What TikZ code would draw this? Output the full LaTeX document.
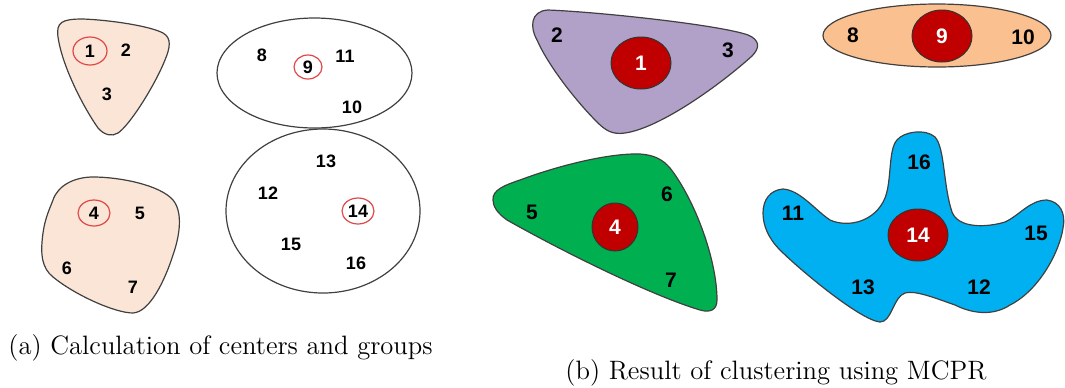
\documentclass[tikz,border=0pt]{standalone}
\usepackage{fontspec}
\newfontfamily\lblfont{Liberation Sans}
\usetikzlibrary{shapes.geometric}
\definecolor{peach}{HTML}{FBE5D6}
\definecolor{lilac}{HTML}{B1A0C7}
\definecolor{apricot}{HTML}{FAC08F}
\definecolor{leaf}{HTML}{00B050}
\definecolor{sky}{HTML}{00B0F0}
\definecolor{darkred}{HTML}{C00000}
\definecolor{ringred}{HTML}{E04848}
\definecolor{edge}{HTML}{404040}
\tikzset{
  blob/.style={draw=edge, line width=0.6pt},
  lblA/.style={font=\lblfont\bfseries\fontsize{9}{9}\selectfont, inner sep=0pt},
  lblB/.style={font=\lblfont\bfseries\fontsize{10.5}{10.5}\selectfont, inner sep=0pt},
  ring/.style={lblA, ellipse, draw=ringred, line width=0.6pt, inner sep=0pt},
  core/.style={lblB, ellipse, fill=darkred, draw=black!80, line width=0.5pt, text=white, inner sep=0pt},
  captxt/.style={font=\fontsize{13.3}{16}\selectfont, inner sep=0pt, anchor=west}
}
\begin{document}
\begin{tikzpicture}[x=0.5pt, y=-0.5pt]
\useasboundingbox (0,0) rectangle (1065,387);
% ---------- (a) ----------
\draw[blob, fill=peach] (58,37) .. controls (56,22) and (62,19) .. (83,19)
  .. controls (110,20) and (150,26) .. (163,33)
  .. controls (172,38) and (170,48) .. (165,60)
  .. controls (155,85) and (130,125) .. (118,133)
  .. controls (112,137) and (104,135) .. (98,128)
  .. controls (82,105) and (62,65) .. (58,37) -- cycle;
\draw[blob, fill=peach] (53,200) .. controls (58,185) and (75,177) .. (93,177)
  .. controls (120,177) and (160,185) .. (173,200)
  .. controls (183,212) and (180,235) .. (173,255)
  .. controls (165,280) and (150,312) .. (133,313)
  .. controls (115,313) and (75,295) .. (53,277)
  .. controls (42,268) and (40,255) .. (43,233)
  .. controls (45,218) and (50,208) .. (53,200) -- cycle;
\draw[blob] (314.5,73) ellipse [x radius=97.5, y radius=55];
\draw[blob] (323,211) ellipse [x radius=97, y radius=82];

\node[ring, minimum width=17pt, minimum height=14pt] (a1) at (90,51) {1};
\node[lblA] (a2) at (126,50) {2};
\node[lblA] (a3) at (107,94) {3};
\node[ring, minimum width=16pt, minimum height=13pt] (a4) at (94,213) {4};
\node[lblA] (a5) at (140,213) {5};
\node[lblA] (a6) at (67,268) {6};
\node[lblA] (a7) at (133,287) {7};
\node[lblA] (a8) at (262,55) {8};
\node[ring, minimum width=14pt, minimum height=12pt] (a9) at (308,67) {9};
\node[lblA] (a11) at (345,56) {11};
\node[lblA] (a10) at (352,107) {10};
\node[lblA] (a13) at (326,161) {13};
\node[lblA] (a12) at (268,193) {12};
\node[ring, minimum width=16pt, minimum height=13pt] (a14) at (358,211) {14};
\node[lblA] (a15) at (291,244) {15};
\node[lblA] (a16) at (356,263) {16};

% ---------- (b) ----------
\draw[blob, fill=lilac] (537,40) .. controls (530,28) and (530,11) .. (548,10)
  .. controls (600,12) and (720,25) .. (748,35)
  .. controls (760,40) and (760,48) .. (752,56)
  .. controls (720,85) and (660,128) .. (625,133)
  .. controls (612,135) and (605,130) .. (597,122)
  .. controls (575,100) and (548,65) .. (537,40) -- cycle;
\draw[blob, fill=apricot] (937,35.5) ellipse [x radius=114, y radius=31.5];
\draw[blob, fill=leaf] (493,200) .. controls (492,190) and (505,185) .. (520,180)
  .. controls (560,165) and (610,153) .. (640,154)
  .. controls (655,155) and (663,160) .. (670,168)
  .. controls (695,200) and (717,260) .. (717,300)
  .. controls (717,310) and (710,313) .. (700,310)
  .. controls (650,295) and (560,250) .. (507,220)
  .. controls (497,213) and (493,206) .. (493,200) -- cycle;
\draw[blob, fill=sky] (763,213) .. controls (763,200) and (770,190) .. (783,189)
  .. controls (800,190) and (815,210) .. (830,220)
  .. controls (848,228) and (875,222) .. (885,198)
  .. controls (892,180) and (888,150) .. (897,140)
  .. controls (903,132) and (925,128) .. (935,137)
  .. controls (945,148) and (943,185) .. (952,212)
  .. controls (958,228) and (985,228) .. (1005,222)
  .. controls (1020,215) and (1030,200) .. (1047,200)
  .. controls (1060,202) and (1066,213) .. (1063,228)
  .. controls (1060,250) and (1040,290) .. (1010,305)
  .. controls (995,315) and (975,315) .. (955,305)
  .. controls (935,298) and (915,290) .. (905,293)
  .. controls (893,297) and (892,322) .. (880,322)
  .. controls (860,320) and (800,270) .. (780,250)
  .. controls (768,238) and (763,225) .. (763,213) -- cycle;

\node[lblB] (b2) at (557,35) {2};
\node[lblB] (b3) at (728,50) {3};
\node[core, minimum width=30pt, minimum height=26pt] (b1) at (641,63) {1};
\node[lblB] (b8) at (853,35) {8};
\node[core, minimum width=30pt, minimum height=26pt] (b9) at (942,36) {9};
\node[lblB] (b10) at (1023,37) {10};
\node[lblB] (b5) at (532,212) {5};
\node[lblB] (b6) at (667,194) {6};
\node[lblB] (b7) at (671,280) {7};
\node[core, minimum width=23pt, minimum height=24pt] (b4) at (615,227) {4};
\node[lblB] (b16) at (919,162) {16};
\node[lblB] (b11) at (793,213) {11};
\node[core, minimum width=30pt, minimum height=26pt] (b14) at (918,235) {14};
\node[lblB] (b15) at (1036,233) {15};
\node[lblB] (b13) at (863,287) {13};
\node[lblB] (b12) at (979,287) {12};

% ---------- captions ----------
\node[captxt] (capa) at (8,348) {(a) Calculation of centers and groups};
\node[captxt] (capb) at (565,373) {(b) Result of clustering using MCPR};
\end{tikzpicture}
\end{document}
